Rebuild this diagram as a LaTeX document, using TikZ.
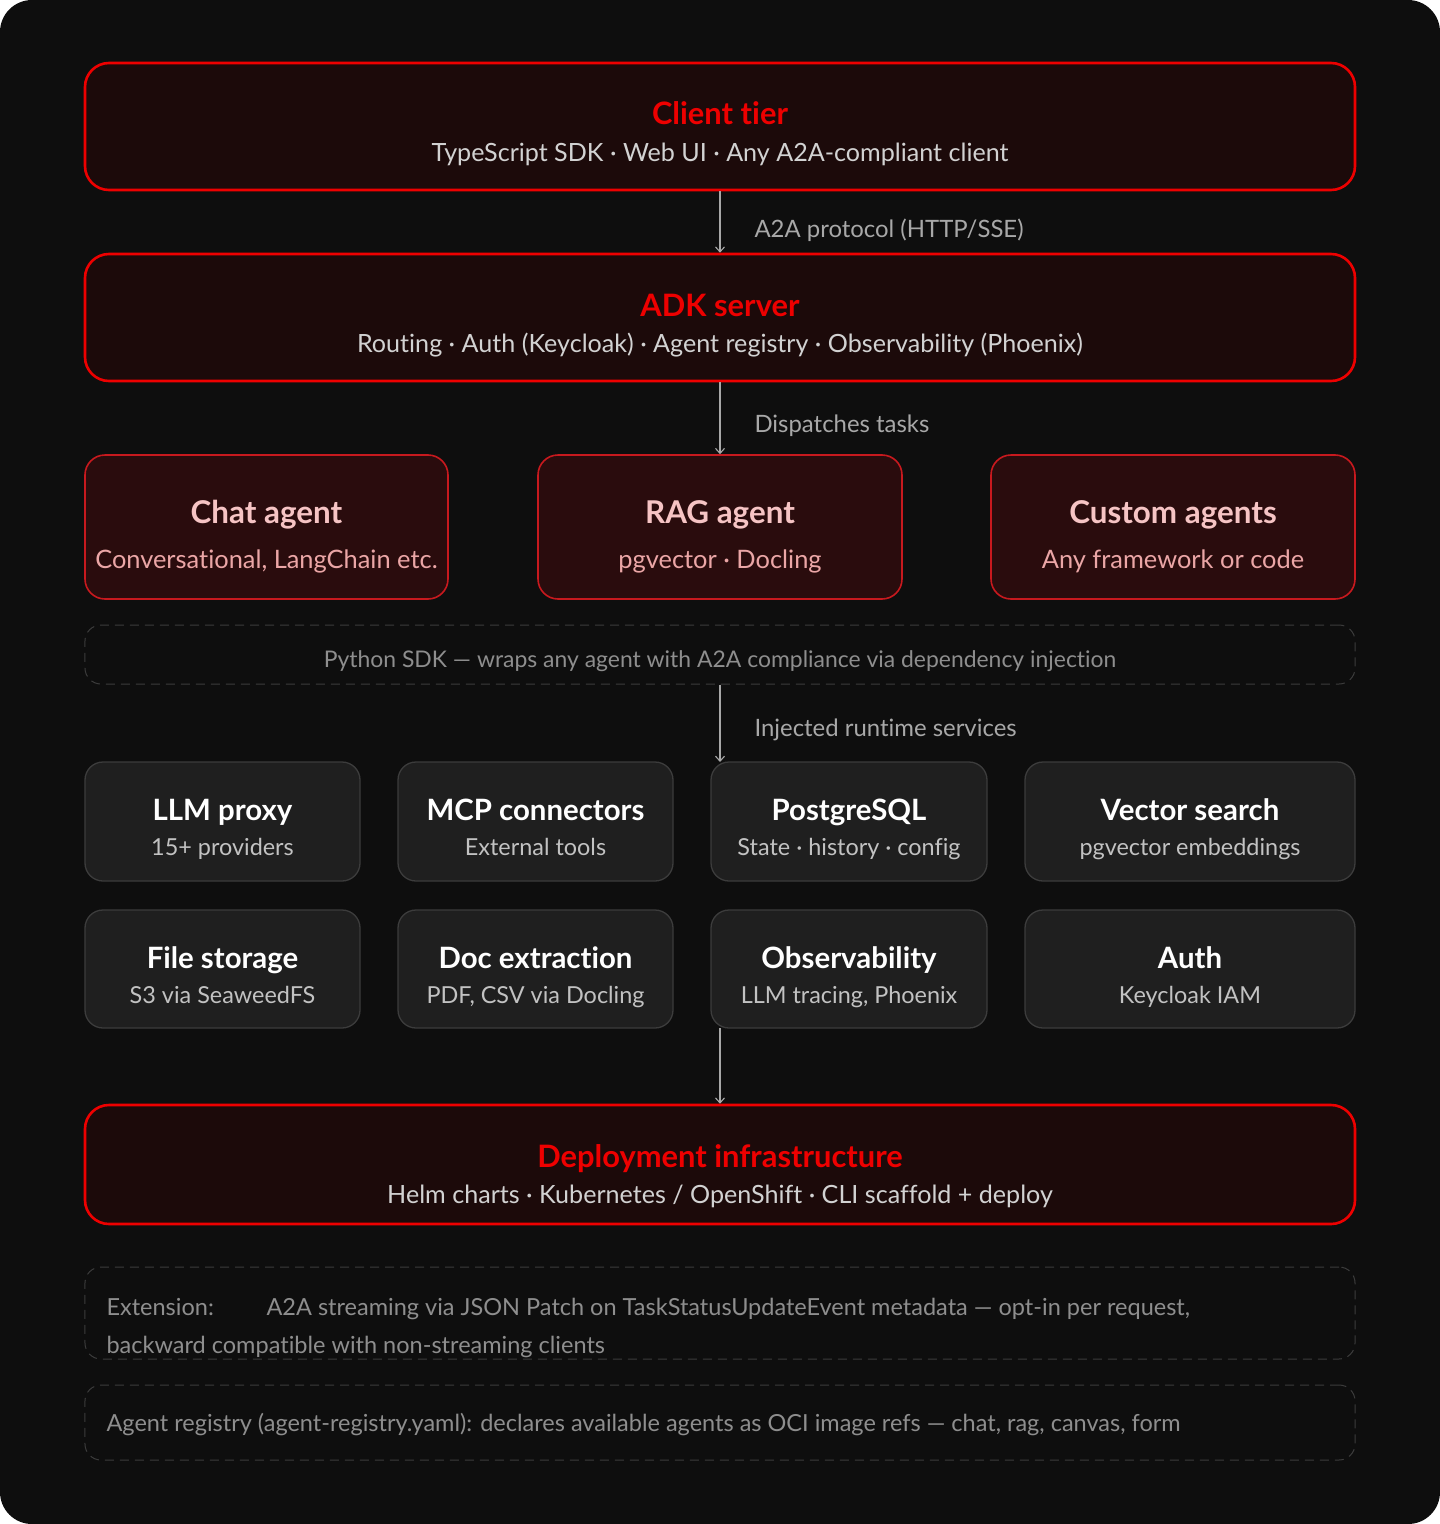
\documentclass[tikz,border=0pt]{standalone}
\usepackage{fontspec}
\setmainfont{Lato}[Ligatures=NoCommon]
\usetikzlibrary{arrows.meta}

\definecolor{pagebg}{HTML}{0E0E0E}
\definecolor{tierred}{HTML}{EE0000}
\definecolor{tierfill}{HTML}{1C0A0A}
\definecolor{agentline}{HTML}{C8191E}
\definecolor{agentfill}{HTML}{2A0C0D}
\definecolor{agenttitle}{HTML}{F6C4C4}
\definecolor{agentsub}{HTML}{EBA6A6}
\definecolor{svcfill}{HTML}{1F1F1F}
\definecolor{svcline}{HTML}{3C3C3C}
\definecolor{subgray}{HTML}{D2D2D2}
\definecolor{svcsub}{HTML}{C2C2C2}
\definecolor{notegray}{HTML}{8E8E8E}
\definecolor{labelgray}{HTML}{A8A8A8}

\tikzset{
  tierbox/.style={draw=tierred, line width=2.6bp, fill=tierfill, rounded corners=24bp,
    minimum width=1270bp, minimum height=127bp, inner sep=0pt},
  agentbox/.style={draw=agentline, line width=1.6bp, fill=agentfill, rounded corners=20bp,
    minimum width=363bp, minimum height=144bp, inner sep=0pt},
  svcbox/.style={draw=svcline, line width=1.3bp, fill=svcfill, rounded corners=18bp,
    minimum height=118bp, inner sep=0pt},
  notebox/.style={draw=svcline, line width=1bp, dash pattern=on 9bp off 6bp,
    rounded corners=16bp, minimum width=1270bp, inner sep=0pt},
  tiertitle/.style={anchor=base, text=tierred, font=\fontsize{31}{36}\selectfont\bfseries},
  tiersub/.style={anchor=base, text=subgray, font=\fontsize{25.2}{30}\selectfont},
  agenttitle/.style={anchor=base, text=agenttitle, font=\fontsize{31.5}{36}\selectfont\bfseries},
  agentsub/.style={anchor=base, text=agentsub, font=\fontsize{25.5}{30}\selectfont},
  svctitle/.style={anchor=base, text=white, font=\fontsize{29.5}{34}\selectfont\bfseries},
  svcsub/.style={anchor=base, text=svcsub, font=\fontsize{23.5}{28}\selectfont},
  flowlabel/.style={anchor=base west, text=labelgray, font=\fontsize{24}{28}\selectfont},
  notetext/.style={text=notegray, font=\fontsize{23.6}{28}\selectfont},
  flow/.style={draw=labelgray, line width=1.1bp, -{Straight Barb[length=5bp,width=9bp]}}
}

\begin{document}
\begin{tikzpicture}[x=1bp,y=-1bp]
    \useasboundingbox (0,0) rectangle (1440,1524);
    \fill[white] (0,0) rectangle (1440,1524);
    \fill[pagebg, rounded corners=32bp] (0,0) rectangle (1440,1524);

    % tiers
    \node[tierbox] (client) at (720,126.5) {};
    \node[tiertitle] (clientT) at (720,125) {Client tier};
    \node[tiersub] (clientS) at (720,161) {TypeScript SDK · Web UI · Any A2A-compliant client};

    \node[tierbox] (adk) at (720,317.5) {};
    \node[tiertitle] (adkT) at (720,316) {ADK server};
    \node[tiersub] (adkS) at (720,352) {Routing · Auth (Keycloak) · Agent registry · Observability (Phoenix)};

    % agents
    \node[agentbox] (chat) at (266.5,527) {};
    \node[agenttitle] (chatT) at (266.5,523) {Chat agent};
    \node[agentsub] (chatS) at (266.5,568) {Conversational, LangChain etc.};

    \node[agentbox, minimum width=364bp] (rag) at (720,527) {};
    \node[agenttitle] (ragT) at (720,523) {RAG agent};
    \node[agentsub] (ragS) at (720,568) {pgvector · Docling};

    \node[agentbox, minimum width=364bp] (custom) at (1173,527) {};
    \node[agenttitle] (customT) at (1173,523) {Custom agents};
    \node[agentsub] (customS) at (1173,568) {Any framework or code};

    \node[notebox, minimum height=59bp] (sdk) at (720,654.5) {};
    \node[notetext, anchor=base, font=\fontsize{23}{28}\selectfont] (sdkT) at (720,667) {Python SDK — wraps any agent with A2A compliance via dependency injection};

    % runtime services
    \node[svcbox, minimum width=275bp, minimum height=119bp] (llm) at (222.5,821.5) {};
    \node[svctitle] (llmT) at (222.5,820) {LLM proxy};
    \node[svcsub] (llmS) at (222.5,855) {15+ providers};

    \node[svcbox, minimum width=275bp, minimum height=119bp] (mcp) at (535.5,821.5) {};
    \node[svctitle] (mcpT) at (535.5,820) {MCP connectors};
    \node[svcsub] (mcpS) at (535.5,855) {External tools};

    \node[svcbox, minimum width=276bp, minimum height=119bp] (pg) at (849,821.5) {};
    \node[svctitle] (pgT) at (849,820) {PostgreSQL};
    \node[svcsub] (pgS) at (849,855) {State · history · config};

    \node[svcbox, minimum width=330bp, minimum height=119bp] (vec) at (1190,821.5) {};
    \node[svctitle] (vecT) at (1190,820) {Vector search};
    \node[svcsub] (vecS) at (1190,855) {pgvector embeddings};

    \node[svcbox, minimum width=275bp] (files) at (222.5,969) {};
    \node[svctitle] (filesT) at (222.5,968) {File storage};
    \node[svcsub] (filesS) at (222.5,1003) {S3 via SeaweedFS};

    \node[svcbox, minimum width=275bp] (docx) at (535.5,969) {};
    \node[svctitle] (docxT) at (535.5,968) {Doc extraction};
    \node[svcsub] (docxS) at (535.5,1003) {PDF, CSV via Docling};

    \node[svcbox, minimum width=276bp] (obs) at (849,969) {};
    \node[svctitle] (obsT) at (849,968) {Observability};
    \node[svcsub] (obsS) at (849,1003) {LLM tracing, Phoenix};

    \node[svcbox, minimum width=330bp] (auth) at (1190,969) {};
    \node[svctitle] (authT) at (1190,968) {Auth};
    \node[svcsub] (authS) at (1190,1003) {Keycloak IAM};

    % deployment
    \node[tierbox, minimum height=119bp] (deploy) at (720,1164.5) {};
    \node[tiertitle] (deployT) at (720,1167) {Deployment infrastructure};
    \node[tiersub] (deployS) at (720,1203) {Helm charts · Kubernetes / OpenShift · CLI scaffold + deploy};

    % notes
    \node[notebox, minimum height=92bp] (ext) at (720,1313) {};
    \node[notetext, anchor=base west] (extA) at (103,1315) {\makebox[160bp][l]{Extension:}A2A streaming via JSON Patch on TaskStatusUpdateEvent metadata — opt-in per request,};
    \node[notetext, anchor=base west] (extB) at (103,1353) {backward compatible with non-streaming clients};

    \node[notebox, minimum height=75bp] (reg) at (720,1422.5) {};
    \node[notetext, anchor=base west] (regT) at (103,1431) {Agent registry (agent-registry.yaml): declares available agents as OCI image refs — chat, rag, canvas, form};

    % connectors
    \coordinate (pgIn) at (720,762);
    \coordinate (obsOut) at (720,1028);
    \draw[flow] (client.south) -- (adk.north);
    \node[flowlabel] (protoL) at (751,237) {A2A protocol (HTTP/SSE)};
    \draw[flow] (adk.south) -- (rag.north);
    \node[flowlabel] (dispL) at (751,432) {Dispatches tasks};
    \draw[flow] (sdk.south) -- (pgIn);
    \node[flowlabel] (injL) at (751,736) {Injected runtime services};
    \draw[flow] (obsOut) -- (deploy.north);
\end{tikzpicture}
\end{document}
